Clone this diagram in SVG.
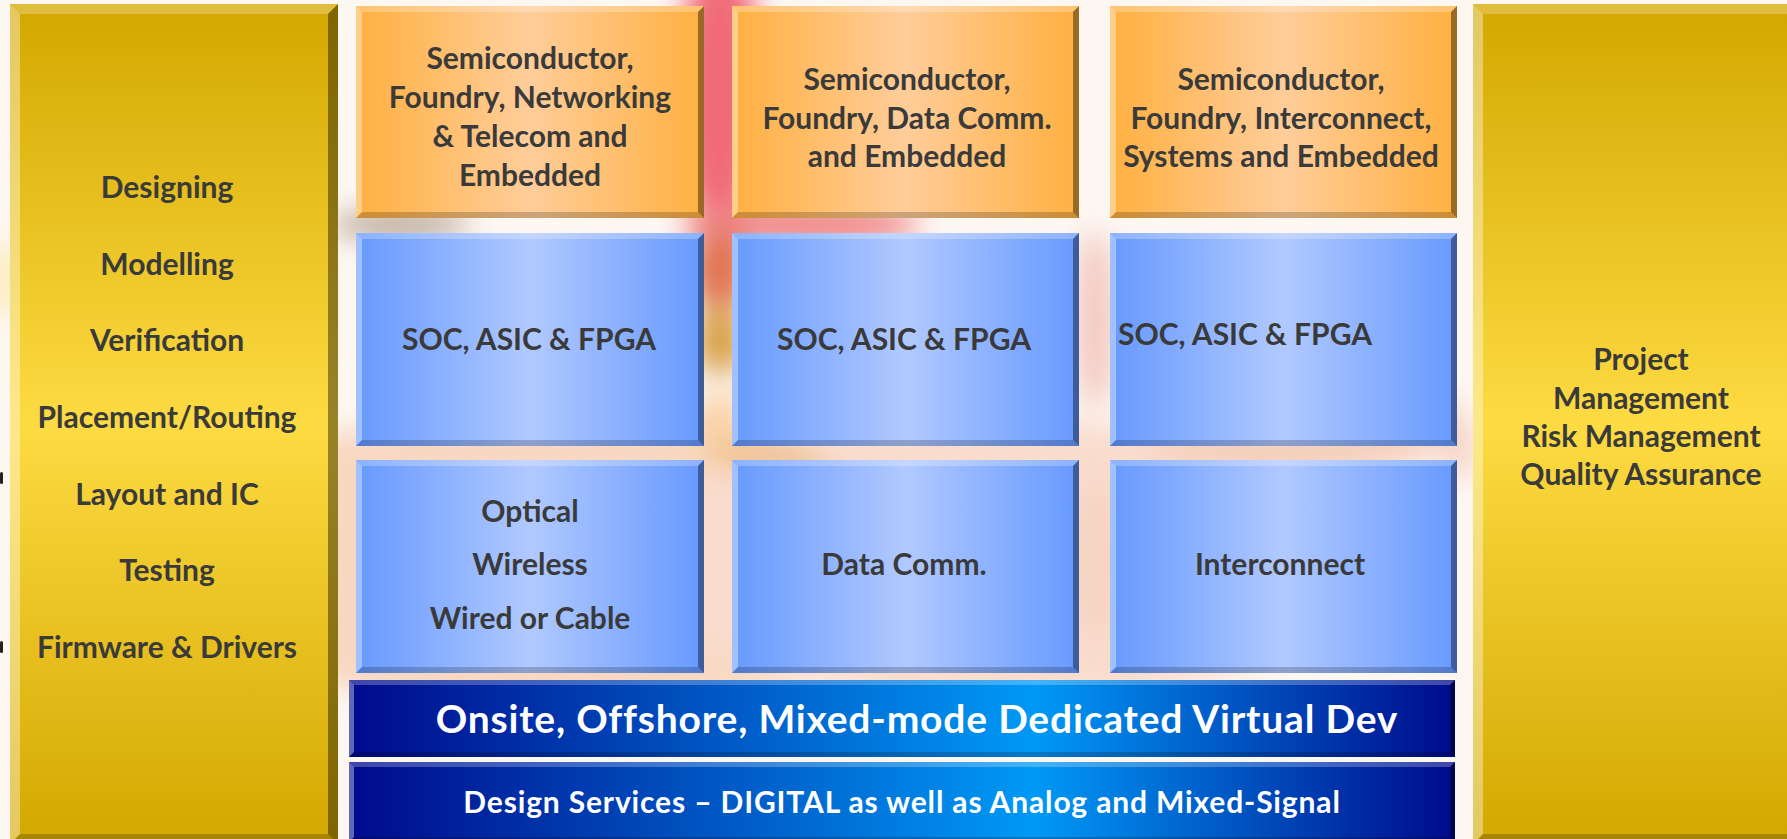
<svg xmlns="http://www.w3.org/2000/svg" width="1787" height="839" viewBox="0 0 1787 839">
<defs>
<linearGradient id="gGold" x1="0" y1="0" x2="0" y2="1">
<stop offset="0" stop-color="#D3A700"/>
<stop offset="0.5" stop-color="#FDDB42"/>
<stop offset="1" stop-color="#D3A700"/>
</linearGradient>
<linearGradient id="gOrange" x1="0" y1="0" x2="1" y2="0">
<stop offset="0" stop-color="#FFB040"/>
<stop offset="0.5" stop-color="#FFCD9A"/>
<stop offset="1" stop-color="#FFB040"/>
</linearGradient>
<linearGradient id="gBlue" x1="0" y1="0" x2="1" y2="0">
<stop offset="0" stop-color="#6699FF"/>
<stop offset="0.5" stop-color="#B1C9FF"/>
<stop offset="1" stop-color="#6699FF"/>
</linearGradient>
<linearGradient id="gBar" x1="0" y1="0" x2="1" y2="0">
<stop offset="0" stop-color="#000A8C"/>
<stop offset="0.62" stop-color="#0099F5"/>
<stop offset="1" stop-color="#000A8C"/>
</linearGradient>
<filter id="blur" x="-50%" y="-50%" width="200%" height="200%"><feGaussianBlur stdDeviation="14"/></filter>
<style>
.bt{fill:#FFFFFF;fill-opacity:0.25}
.bl{fill:#FFFFFF;fill-opacity:0.38}
.br{fill:#000000;fill-opacity:0.4}
.bb{fill:#000000;fill-opacity:0.2}
.t{font-family:Lato,"Open Sans","Liberation Sans",sans-serif;font-weight:700;font-size:30px;fill:#3A3A3A;text-anchor:middle}
.w{font-family:Lato,"Open Sans","Liberation Sans",sans-serif;font-weight:700;fill:#FFFFFF;text-anchor:middle}
</style>
</defs>

<g id="background">
<rect x="0" y="0" width="1787" height="839" fill="#FDF7F2"/>
<g filter="url(#blur)">
<ellipse cx="560" cy="560" rx="420" ry="150" fill="#F8D8C2"/>
<ellipse cx="1000" cy="560" rx="380" ry="140" fill="#F9DCCC"/>
<ellipse cx="1300" cy="420" rx="160" ry="60" fill="#F6D0BE"/>
<ellipse cx="720" cy="90" rx="42" ry="140" fill="#F06A78"/>
<ellipse cx="800" cy="225" rx="120" ry="22" fill="#F08888"/>
<ellipse cx="720" cy="270" rx="30" ry="40" fill="#E07452"/>
<ellipse cx="720" cy="340" rx="25" ry="35" fill="#D8A048"/>
<ellipse cx="720" cy="430" rx="25" ry="40" fill="#F9D2A8"/>
<ellipse cx="400" cy="225" rx="70" ry="14" fill="#B8A595"/>
<ellipse cx="770" cy="455" rx="60" ry="10" fill="#E9B06A"/>
<ellipse cx="1095" cy="320" rx="20" ry="90" fill="#F3C8C0"/>
<ellipse cx="1095" cy="560" rx="20" ry="80" fill="#F6D2C2"/>
<ellipse cx="1460" cy="450" rx="14" ry="30" fill="#F4CFC0"/>
<ellipse cx="4" cy="280" rx="8" ry="40" fill="#FBE28A"/>
</g>
<rect x="0" y="472" width="3" height="12" rx="1.5" fill="#222"/>
<rect x="0" y="641" width="3" height="12" rx="1.5" fill="#222"/>
</g>

<g id="left-panel">
<rect x="10" y="4" width="328" height="840" fill="url(#gGold)"/>
<polygon class="bt" points="10,4 338,4 328,14 20,14"/>
<polygon class="bl" points="10,4 20,14 20,834 10,844"/>
<polygon class="br" points="338,4 338,844 328,834 328,14"/>
<polygon class="bb" points="10,844 20,834 328,834 338,844"/>
<text class="t" x="167" y="198">Designing</text>
<text class="t" x="167" y="275">Modelling</text>
<text class="t" x="167" y="351">Verification</text>
<text class="t" x="167" y="428">Placement/Routing</text>
<text class="t" x="167" y="505">Layout and IC</text>
<text class="t" x="167" y="581">Testing</text>
<text class="t" x="167" y="658">Firmware &amp; Drivers</text>
</g>

<g id="right-panel">
<rect x="1473" y="4" width="330" height="840" fill="url(#gGold)"/>
<polygon class="bt" points="1473,4 1803,4 1793,14 1483,14"/>
<polygon class="bl" points="1473,4 1483,14 1483,834 1473,844"/>
<polygon class="bb" points="1473,844 1483,834 1793,834 1803,844"/>
<text class="t" x="1641" y="370">Project</text>
<text class="t" x="1641" y="409">Management</text>
<text class="t" x="1641" y="447">Risk Management</text>
<text class="t" x="1641" y="485">Quality Assurance</text>
</g>

<g id="orange-1">
<rect x="356" y="6" width="348" height="212" fill="url(#gOrange)"/>
<polygon class="bt" points="356,6 704,6 698,12 362,12"/>
<polygon class="bl" points="356,6 362,12 362,212 356,218"/>
<polygon class="br" points="704,6 704,218 698,212 698,12"/>
<polygon class="bb" points="356,218 362,212 698,212 704,218"/>
<text class="t" x="530" y="69">Semiconductor,</text>
<text class="t" x="530" y="108">Foundry, Networking</text>
<text class="t" x="530" y="147">&amp; Telecom and</text>
<text class="t" x="530" y="186">Embedded</text>
</g>

<g id="orange-2">
<rect x="732" y="6" width="347" height="212" fill="url(#gOrange)"/>
<polygon class="bt" points="732,6 1079,6 1073,12 738,12"/>
<polygon class="bl" points="732,6 738,12 738,212 732,218"/>
<polygon class="br" points="1079,6 1079,218 1073,212 1073,12"/>
<polygon class="bb" points="732,218 738,212 1073,212 1079,218"/>
<text class="t" x="907" y="90">Semiconductor,</text>
<text class="t" x="907" y="129">Foundry, Data Comm.</text>
<text class="t" x="907" y="167">and Embedded</text>
</g>

<g id="orange-3">
<rect x="1110" y="6" width="347" height="212" fill="url(#gOrange)"/>
<polygon class="bt" points="1110,6 1457,6 1451,12 1116,12"/>
<polygon class="bl" points="1110,6 1116,12 1116,212 1110,218"/>
<polygon class="br" points="1457,6 1457,218 1451,212 1451,12"/>
<polygon class="bb" points="1110,218 1116,212 1451,212 1457,218"/>
<text class="t" x="1281" y="90">Semiconductor,</text>
<text class="t" x="1281" y="129">Foundry, Interconnect,</text>
<text class="t" x="1281" y="167">Systems and Embedded</text>
</g>

<g id="blue-soc-1">
<rect x="356" y="233" width="348" height="213" fill="url(#gBlue)"/>
<polygon class="bt" points="356,233 704,233 698,239 362,239"/>
<polygon class="bl" points="356,233 362,239 362,440 356,446"/>
<polygon class="br" points="704,233 704,446 698,440 698,239"/>
<polygon class="bb" points="356,446 362,440 698,440 704,446"/>
<text class="t" x="529" y="350">SOC, ASIC &amp; FPGA</text>
</g>

<g id="blue-soc-2">
<rect x="732" y="233" width="347" height="213" fill="url(#gBlue)"/>
<polygon class="bt" points="732,233 1079,233 1073,239 738,239"/>
<polygon class="bl" points="732,233 738,239 738,440 732,446"/>
<polygon class="br" points="1079,233 1079,446 1073,440 1073,239"/>
<polygon class="bb" points="732,446 738,440 1073,440 1079,446"/>
<text class="t" x="904" y="350">SOC, ASIC &amp; FPGA</text>
</g>

<g id="blue-soc-3">
<rect x="1110" y="233" width="347" height="213" fill="url(#gBlue)"/>
<polygon class="bt" points="1110,233 1457,233 1451,239 1116,239"/>
<polygon class="bl" points="1110,233 1116,239 1116,440 1110,446"/>
<polygon class="br" points="1457,233 1457,446 1451,440 1451,239"/>
<polygon class="bb" points="1110,446 1116,440 1451,440 1457,446"/>
<text class="t" x="1245" y="345">SOC, ASIC &amp; FPGA</text>
</g>

<g id="blue-optical">
<rect x="356" y="460" width="348" height="213" fill="url(#gBlue)"/>
<polygon class="bt" points="356,460 704,460 698,466 362,466"/>
<polygon class="bl" points="356,460 362,466 362,667 356,673"/>
<polygon class="br" points="704,460 704,673 698,667 698,466"/>
<polygon class="bb" points="356,673 362,667 698,667 704,673"/>
<text class="t" x="530" y="522">Optical</text>
<text class="t" x="530" y="575">Wireless</text>
<text class="t" x="530" y="629">Wired or Cable</text>
</g>

<g id="blue-datacomm">
<rect x="732" y="460" width="347" height="213" fill="url(#gBlue)"/>
<polygon class="bt" points="732,460 1079,460 1073,466 738,466"/>
<polygon class="bl" points="732,460 738,466 738,667 732,673"/>
<polygon class="br" points="1079,460 1079,673 1073,667 1073,466"/>
<polygon class="bb" points="732,673 738,667 1073,667 1079,673"/>
<text class="t" x="904" y="575">Data Comm.</text>
</g>

<g id="blue-interconnect">
<rect x="1110" y="460" width="347" height="213" fill="url(#gBlue)"/>
<polygon class="bt" points="1110,460 1457,460 1451,466 1116,466"/>
<polygon class="bl" points="1110,460 1116,466 1116,667 1110,673"/>
<polygon class="br" points="1457,460 1457,673 1451,667 1451,466"/>
<polygon class="bb" points="1110,673 1116,667 1451,667 1457,673"/>
<text class="t" x="1280" y="575">Interconnect</text>
</g>

<g id="bar-onsite">
<rect x="349" y="680" width="1106" height="77" fill="url(#gBar)"/>
<polygon class="bt" points="349,680 1455,680 1450,685 354,685"/>
<polygon class="bl" points="349,680 354,685 354,752 349,757"/>
<polygon class="br" points="1455,680 1455,757 1450,752 1450,685"/>
<polygon class="bb" points="349,757 354,752 1450,752 1455,757"/>
<text class="w" x="917" y="733" font-size="39" letter-spacing="0.8">Onsite, Offshore, Mixed-mode Dedicated Virtual Dev</text>
</g>

<g id="bar-design">
<rect x="349" y="762" width="1106" height="80" fill="url(#gBar)"/>
<polygon class="bt" points="349,762 1455,762 1450,767 354,767"/>
<polygon class="bl" points="349,762 354,767 354,837 349,842"/>
<polygon class="br" points="1455,762 1455,842 1450,837 1450,767"/>
<polygon class="bb" points="349,842 354,837 1450,837 1455,842"/>
<text class="w" x="902" y="813" font-size="30" letter-spacing="0.85">Design Services – DIGITAL as well as Analog and Mixed-Signal</text>
</g>

<g id="connectors"></g>
</svg>
